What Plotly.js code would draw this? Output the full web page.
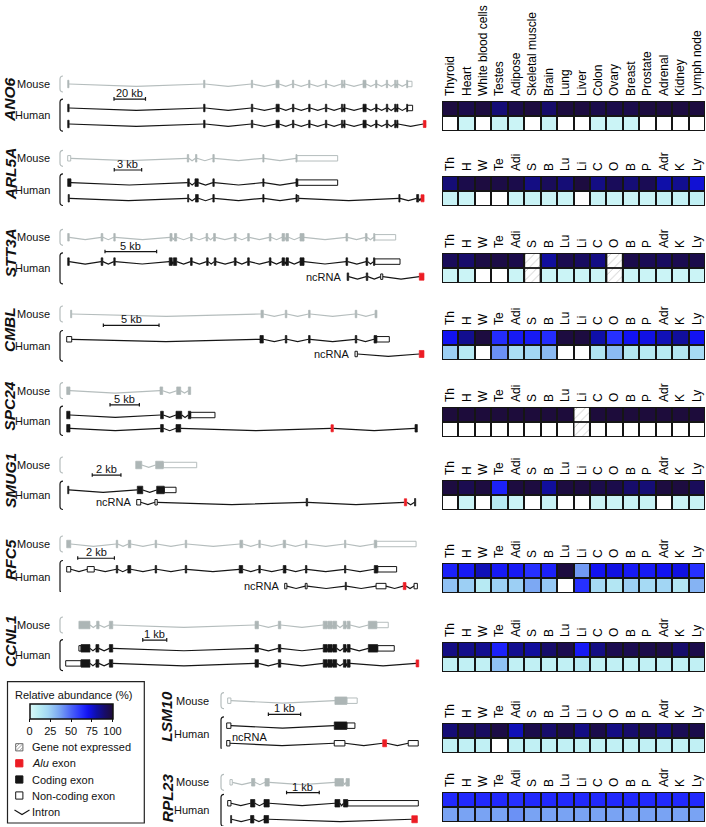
<!DOCTYPE html>
<html><head><meta charset="utf-8">
<script src="https://cdn.plot.ly/plotly-3.0.1.min.js"></script>
<style>html,body{margin:0;padding:0;background:#fff}#chart{width:706px;height:827px}</style>
</head><body><div id="chart"></div>
<script>
const W = 706, H = 827;
const FONT = 'Liberation Sans, Arial, sans-serif';

// ---------- DATA ----------
const tissues = ["Thyroid","Heart","White blood cells","Testes","Adipose","Skeletal muscle","Brain","Lung","Liver","Colon","Ovary","Breast","Prostate","Adrenal","Kidney","Lymph node"];
const tissueAbbr = ["Th","H","W","Te","Adi","S","B","Lu","Li","C","O","B","P","Adr","K","Ly"];
const geneNames = ["ANO6","ARL5A","STT3A","CMBL","SPC24","SMUG1","RFC5","CCNL1","LSM10","RPL23"];
const scaleKb = [20,3,5,5,5,2,2,1,1,1];
const colorTicks = [0,25,50,75,100];

// relative abundance (%) : canonical isoform (top row) and Alu-exon isoform (bottom row); null = gene not expressed
const ANO6_top  = [98,96,98,88,96,98,90,98,98,96,96,96,98,98,98,98];
const ANO6_alu  = [0,5,0,6,5,0,6,0,0,5,5,5,0,0,0,0];
const ARL5A_top = [88,96,98,97,96,86,93,88,98,86,93,88,94,80,84,74];
const ARL5A_alu = [6,5,0,0,5,6,5,5,0,6,5,5,5,7,7,8];
const STT3A_top = [93,90,97,97,96,null,82,95,92,86,null,96,94,92,95,96];
const STT3A_alu = [5,5,0,0,5,null,5,5,5,5,null,5,5,5,5,5];
const CMBL_top  = [70,84,98,63,68,68,63,98,98,80,62,70,72,78,82,70];
const CMBL_alu  = [24,12,0,40,18,22,30,0,0,15,30,14,12,12,14,20];
const SPC24_top = [99,99,99,99,99,99,99,99,null,99,99,99,99,99,99,99];
const SPC24_alu = [0,0,0,0,0,0,0,0,null,0,0,0,0,0,0,0];
const SMUG1_top = [98,95,98,66,98,98,82,98,98,96,96,90,88,98,98,93];
const SMUG1_alu = [0,5,0,12,5,0,6,0,0,5,5,6,6,0,5,6];
const RFC5_top  = [66,68,78,68,68,62,66,98,38,70,72,68,68,70,72,62];
const RFC5_alu  = [28,24,12,24,24,35,26,0,62,20,14,24,20,22,14,32];
const CCNL1_top = [86,85,84,66,84,82,90,95,68,86,95,95,96,97,90,96];
const CCNL1_alu = [8,8,8,28,8,8,8,8,12,8,8,8,8,8,8,8];
const LSM10_top = [88,94,92,97,78,96,90,96,86,96,86,90,94,88,94,96];
const LSM10_alu = [8,8,8,0,8,8,8,8,8,8,8,8,8,8,8,8];
const RPL23_top = [64,64,64,64,62,64,64,64,64,64,64,64,64,64,64,64];
const RPL23_alu = [36,36,36,36,40,36,36,36,36,36,36,36,36,36,36,36];

// exon structures in kb: [start, end, type]  c = coding, n = non-coding, a = Alu exon
const ANO6_mouse  = [[0,0.8,'c'],[86.3,87.1,'c'],[116.6,117.4,'c'],[132.3,134.2,'c'],[142.7,143.5,'c'],[153,153.8,'c'],[163.6,164.4,'c'],[173.8,174.5,'c'],[175.3,176,'c'],[187.5,189.4,'c'],[195.5,196.3,'c'],[202.3,203.1,'c'],[207.6,208.3,'c'],[208.9,209.6,'c'],[215.2,215.8,'c'],[215.8,218.6,'n']];
const ANO6_human1 = [[0,0.9,'c'],[86.3,87.2,'c'],[116.6,117.5,'c'],[132.3,134.3,'c'],[142.7,143.6,'c'],[153,153.9,'c'],[163.6,164.5,'c'],[173.8,174.6,'c'],[175.3,176.1,'c'],[187.5,189.5,'c'],[195.5,196.4,'c'],[202.3,203.2,'c'],[207.6,208.4,'c'],[208.9,209.7,'c'],[215.2,215.8,'c'],[215.8,219.0,'n']];
const ANO6_human2 = [[0,0.9,'c'],[86.3,87.2,'c'],[116.6,117.5,'c'],[132.3,134.3,'c'],[142.7,143.6,'c'],[153,153.9,'c'],[163.6,164.5,'c'],[173.8,174.6,'c'],[175.3,176.1,'c'],[187.5,189.5,'c'],[195.5,196.4,'c'],[202.3,203.2,'c'],[207.6,208.4,'c'],[208.9,209.7,'c'],[225.8,227.5,'a']];

const ARL5A_mouse  = [[0,0.33,'n'],[13.1,13.25,'c'],[14.0,14.15,'c'],[15.9,16.05,'c'],[21.37,21.5,'c'],[25.0,25.1,'c'],[25.1,29.57,'n']];
const ARL5A_human1 = [[0,0.36,'c'],[13.14,13.32,'c'],[13.94,14.3,'c'],[15.9,16.05,'c'],[21.37,21.5,'c'],[25.0,25.19,'c'],[25.19,29.57,'n']];
const ARL5A_human2 = [[0.05,0.18,'c'],[13.14,13.25,'c'],[14.0,14.3,'c'],[15.9,16.05,'c'],[21.37,21.5,'c'],[25.0,25.12,'c'],[25.12,25.3,'n'],[36.27,36.4,'c'],[38.22,38.44,'c'],[38.7,39.03,'a']];

const STT3A_mouse  = [[0,0.15,'c'],[3.24,3.4,'c'],[4.46,4.6,'c'],[9.9,10.1,'c'],[10.34,10.55,'c'],[11.89,12.05,'c'],[13.4,13.55,'c'],[14.12,14.3,'c'],[16.13,16.3,'c'],[17.42,17.58,'c'],[19.52,19.68,'c'],[20.75,20.99,'c'],[21.13,21.37,'c'],[22.49,22.88,'c'],[26.94,27.1,'c'],[28.82,28.98,'c'],[29.62,29.72,'c'],[29.72,31.75,'n']];
const STT3A_human1 = [[0,0.15,'c'],[3.24,3.4,'c'],[4.46,4.6,'c'],[9.83,10.12,'c'],[10.23,10.55,'c'],[11.89,12.05,'c'],[13.45,13.6,'c'],[14.19,14.35,'c'],[16.13,16.3,'c'],[17.42,17.58,'c'],[19.52,19.68,'c'],[20.75,20.99,'c'],[21.13,21.37,'c'],[22.49,22.88,'c'],[26.94,27.1,'c'],[28.88,29.04,'c'],[29.6,29.72,'c'],[29.72,32.17,'n']];
const STT3A_ncRNA  = [[27.05,27.2,'c'],[28.9,29.05,'c'],[30.3,30.5,'n'],[34.04,34.49,'a']];

const CMBL_mouse  = [[0.35,0.45,'c'],[17.44,17.65,'c'],[19.62,19.76,'c'],[21.71,21.85,'c'],[25.9,26.04,'c'],[27.68,27.85,'c']];
const CMBL_human1 = [[0,0.45,'n'],[17.35,17.65,'c'],[19.62,19.76,'c'],[21.71,21.85,'c'],[25.9,26.04,'c'],[27.59,27.83,'c'],[27.83,28.96,'n']];
const CMBL_ncRNA  = [[25.88,26.09,'n'],[31.65,32.07,'a']];

const SPC24_mouse  = [[0,0.56,'c'],[15.9,16.35,'c'],[18.74,19.42,'c'],[20.72,21.12,'c']];
const SPC24_human1 = [[0,0.56,'c'],[16.0,16.46,'c'],[18.62,19.59,'c'],[20.72,21.12,'c'],[21.12,25.26,'n']];
const SPC24_human2 = [[0,0.56,'c'],[16.0,16.46,'c'],[18.62,19.42,'c'],[45.03,45.42,'a'],[59.34,59.73,'c']];

const SMUG1_mouse  = [[4.74,5.16,'c'],[6.13,6.66,'c'],[6.66,8.99,'n']];
const SMUG1_human1 = [[0,0.08,'c'],[4.85,5.23,'c'],[6.2,6.73,'c'],[6.73,7.55,'n']];
const SMUG1_ncRNA  = [[4.81,5.09,'n'],[6.08,6.24,'n'],[16.62,16.72,'c'],[23.46,23.62,'a'],[24.17,24.25,'c']];

const RFC5_mouse  = [[0,0.22,'c'],[2.7,2.78,'c'],[3.36,3.49,'c'],[4.82,4.9,'c'],[6.46,6.54,'c'],[9.44,9.59,'c'],[10.47,10.55,'c'],[11.8,11.93,'c'],[13.01,13.09,'c'],[15.14,15.21,'c'],[16.76,16.89,'c'],[16.89,19.04,'n']];
const RFC5_human1 = [[0,0.22,'n'],[1.12,1.5,'n'],[2.7,2.78,'c'],[3.33,3.49,'c'],[4.82,4.9,'c'],[6.46,6.54,'c'],[9.4,9.59,'c'],[10.47,10.55,'c'],[11.8,11.95,'c'],[13.01,13.09,'c'],[15.14,15.21,'c'],[16.76,16.95,'c'],[16.95,17.98,'n']];
const RFC5_ncRNA  = [[11.88,12.0,'n'],[13.0,13.1,'n'],[15.18,15.24,'c'],[16.86,17.4,'n'],[18.34,18.49,'a'],[18.93,19.11,'n']];

const CCNL1_mouse  = [[0.55,1.01,'c'],[1.29,1.39,'c'],[1.82,1.96,'c'],[7.89,8.03,'c'],[8.86,8.96,'c'],[10.73,10.9,'c'],[10.93,11.1,'c'],[11.13,11.29,'c'],[11.57,11.68,'c'],[11.73,11.85,'c'],[12.61,12.96,'c'],[12.96,13.44,'n']];
const CCNL1_human1 = [[0.55,0.64,'n'],[0.64,1.01,'c'],[1.26,1.38,'c'],[1.82,1.96,'c'],[7.89,8.03,'c'],[8.86,8.96,'c'],[10.73,10.9,'c'],[10.93,11.1,'c'],[11.13,11.29,'c'],[11.57,11.68,'c'],[11.73,11.85,'c'],[12.61,13.0,'c'],[13.0,13.69,'n']];
const CCNL1_human2 = [[0,0.64,'n'],[0.64,1.01,'c'],[1.26,1.38,'c'],[1.82,1.96,'c'],[7.89,8.03,'c'],[8.86,8.96,'c'],[10.73,10.9,'c'],[10.93,11.1,'c'],[11.13,11.29,'c'],[11.57,11.68,'c'],[11.73,11.85,'c'],[14.6,14.71,'a']];

const LSM10_mouse  = [[0.03,0.13,'n'],[3.35,3.72,'c'],[3.72,4.04,'n']];
const LSM10_human1 = [[0,0.13,'n'],[3.33,3.72,'c'],[3.72,3.97,'n']];
const LSM10_ncRNA  = [[0,0.1,'n'],[3.33,3.66,'n'],[4.83,4.95,'a'],[5.62,5.93,'n']];

const RPL23_mouse  = [[0.07,0.14,'n'],[0.73,0.83,'c'],[1.14,1.27,'c'],[3.28,3.54,'c'],[3.62,3.72,'c']];
const RPL23_human1 = [[0,0.1,'n'],[0.7,0.83,'c'],[1.11,1.27,'c'],[3.28,3.43,'c'],[3.54,3.67,'c'],[3.67,5.83,'n']];
const RPL23_human2 = [[0.09,0.12,'c'],[0.7,0.8,'c'],[1.11,1.25,'c'],[5.63,5.8,'a']];

const geneTracks = {
  ANO6:[ANO6_mouse,ANO6_human1,ANO6_human2], ARL5A:[ARL5A_mouse,ARL5A_human1,ARL5A_human2],
  STT3A:[STT3A_mouse,STT3A_human1,STT3A_ncRNA], CMBL:[CMBL_mouse,CMBL_human1,CMBL_ncRNA],
  SPC24:[SPC24_mouse,SPC24_human1,SPC24_human2], SMUG1:[SMUG1_mouse,SMUG1_human1,SMUG1_ncRNA],
  RFC5:[RFC5_mouse,RFC5_human1,RFC5_ncRNA], CCNL1:[CCNL1_mouse,CCNL1_human1,CCNL1_human2],
  LSM10:[LSM10_mouse,LSM10_human1,LSM10_ncRNA], RPL23:[RPL23_mouse,RPL23_human1,RPL23_human2]
};
const geneHeat = {
  ANO6:[ANO6_top,ANO6_alu], ARL5A:[ARL5A_top,ARL5A_alu], STT3A:[STT3A_top,STT3A_alu], CMBL:[CMBL_top,CMBL_alu],
  SPC24:[SPC24_top,SPC24_alu], SMUG1:[SMUG1_top,SMUG1_alu], RFC5:[RFC5_top,RFC5_alu], CCNL1:[CCNL1_top,CCNL1_alu],
  LSM10:[LSM10_top,LSM10_alu], RPL23:[RPL23_top,RPL23_alu]
};

// ---------- LAYOUT (positions in page pixels) ----------
const view = {
  ANO6: {mY:84,    x0:67.7,  s:1.575, rows:[0,1.5,2.5],   heat:[101,131], bar:[29.4,0.94], right:false},
  ARL5A:{mY:158.3, x0:67.7,  s:9.13,  rows:[0,1.52,2.5],  heat:[176,206], bar:[5.1,0.73],  right:false},
  STT3A:{mY:237.3, x0:67.7,  s:10.33, rows:[0,1.52,2.46], heat:[253,283], bar:[3.61,0.9],  right:false, nc:'left'},
  CMBL: {mY:314,   x0:66.7,  s:11.14, rows:[0,1.58,2.5],  heat:[330,360], bar:[3.29,0.71], right:false, nc:'left'},
  SPC24:{mY:390.7, x0:66.7,  s:5.87,  rows:[0,1.52,2.35], heat:[407,437], bar:[7.38,0.89], right:false},
  SMUG1:{mY:465,   x0:67.7,  s:14.35, rows:[0,1.56,2.33], heat:[480,510], bar:[1.71,0.63], right:false, nc:'left'},
  RFC5: {mY:544,   x0:66.7,  s:18.35, rows:[0,1.58,2.63], heat:[563,593], bar:[0.6,0.89],  right:false, nc:'left'},
  CCNL1:{mY:625,   x0:65.7,  s:24,    rows:[0,1.46,2.4],  heat:[642,672], bar:[3.21,0.94], right:false},
  LSM10:{mY:700.7, x0:226.7, s:32.3,  rows:[0,1.56,2.66], heat:[723,753], bar:[1.29,0.85], right:true, nc:'above'},
  RPL23:{mY:782.3, x0:227.7, s:32.7,  rows:[0,1.31,2.31], heat:[792,822], bar:[1.8,0.65],  right:true}
};
const UNIT = 16;           // px per track unit
const DIP = 0.15;          // intron V depth
const GRAY_LINE = '#b5bdbd', GRAY_FILL = '#adb6b6', BLK = '#151515', RED = '#ec1c24';

const X = px => px / W;
const Y = py => 1 - py / H;
const aid = n => n === 1 ? '' : String(n);

const colorscale = [
  [0,'#ffffff'],[0.01,'#d8f8f8'],[0.1,'#bbeef3'],[0.22,'#a2d6f4'],[0.35,'#7ca8f3'],
  [0.5,'#4a62f8'],[0.62,'#2630ff'],[0.7,'#1212f2'],[0.8,'#0f0fa8'],[0.9,'#170c6a'],[1,'#1e0c36']
];

const data = [], shapes = [], annotations = [];
const layout = {
  width: W, height: H, margin:{l:0,r:0,t:0,b:0}, showlegend:false,
  paper_bgcolor:'#fff', plot_bgcolor:'rgba(0,0,0,0)', barmode:'overlay',
  font:{family:FONT, color:'#111'},
  coloraxis:{
    colorscale: colorscale, cmin:0, cmax:100,
    colorbar:{orientation:'h', x:X(71), xanchor:'center', y:Y(703.5), yanchor:'top',
      len:83, lenmode:'pixels', thickness:15, thicknessmode:'pixels', xpad:0, ypad:0,
      tickvals: colorTicks, ticks:'outside', ticklen:3, tickwidth:1, tickcolor:'#111',
      tickfont:{size:11, family:FONT, color:'#111'}, outlinewidth:1.5, outlinecolor:'#111',
      title:{text:''}}
  },
  shapes: shapes, annotations: annotations
};

geneNames.forEach((name, i) => {
  const v = view[name];
  const tracks = geneTracks[name];
  const gn = 2*i + 1, hn = 2*i + 2;
  const gx = 'x'+aid(gn), gy = 'y'+aid(gn), hx = 'x'+aid(hn), hy = 'y'+aid(hn);
  const ymax = Math.min(3.0, (826 - v.mY)/UNIT);
  const ymin = -1.2;
  layout['xaxis'+aid(gn)] = {domain:[0, X(440)], range:[(0 - v.x0)/v.s, (440 - v.x0)/v.s], visible:false, fixedrange:true, anchor:gy};
  layout['yaxis'+aid(gn)] = {domain:[Y(v.mY + ymax*UNIT), Y(v.mY + ymin*UNIT)], range:[ymax, ymin], visible:false, fixedrange:true, anchor:gx};

  // transcripts
  tracks.forEach((tr, k) => {
    const y = v.rows[k];
    const mouse = k === 0;
    const col = mouse ? GRAY_LINE : BLK;
    const fillc = mouse ? GRAY_FILL : BLK;
    const ex = tr.slice().sort((a,b) => a[0]-b[0]);
    const xs = [], ys = [];
    for (let j = 0; j < ex.length - 1; j++) {
      const a = ex[j][1], b = ex[j+1][0];
      if (b - a <= 0) continue;
      xs.push(a, (a+b)/2, b, null); ys.push(y, y + DIP, y, null);
    }
    data.push({type:'scatter', mode:'lines', x:xs, y:ys, xaxis:gx, yaxis:gy,
      line:{color:col, width:1.2}, hoverinfo:'skip', cliponaxis:false});
    const order = tr.slice().sort((a,b) => (a[2]==='n'?0:1) - (b[2]==='n'?0:1));
    order.forEach(([s,e,t]) => {
      const h = t==='c' ? 0.47 : (t==='a' ? 0.44 : 0.34);
      const fill = t==='n' ? '#ffffff' : (t==='a' ? RED : fillc);
      const lc = t==='a' ? RED : (t==='n' ? (mouse ? GRAY_LINE : BLK) : fillc);
      shapes.push({type:'rect', xref:gx, yref:gy, x0:s, x1:e, y0:y-h/2, y1:y+h/2,
        fillcolor:fill, line:{color:lc, width: t==='n' ? 1 : 0.7}, layer:'above'});
    });
  });

  // labels
  const labX = v.right ? 167 : 10;
  const txtR = v.right ? 211 : 52;
  const brX = v.right ? 221 : 60;
  annotations.push({xref:'paper', yref:gy, x:X(labX), y:1.0, text:'<b><i>'+name+'</i></b>', textangle:-90,
    showarrow:false, font:{size:15.5, family:FONT, color:'#111'}, xanchor:'center', yanchor:'middle'});
  annotations.push({xref:'paper', yref:gy, x:X(txtR), y:v.rows[0], text:'Mouse', showarrow:false,
    xanchor:'right', yanchor:'middle', font:{size:11, family:FONT, color:'#111'}});
  annotations.push({xref:'paper', yref:gy, x:X(txtR), y:(v.rows[1]+v.rows[2])/2 - 0.05, text:'Human', showarrow:false,
    xanchor:'right', yanchor:'middle', font:{size:11, family:FONT, color:'#111'}});
  // brackets
  const bracket = (top, bot, color) => {
    const a = X(brX), b = X(brX + 3);
    shapes.push({type:'path', xref:'paper', yref:gy,
      path:`M ${b},${top} Q ${a},${top} ${a},${top+0.2} L ${a},${bot-0.2} Q ${a},${bot} ${b},${bot}`,
      line:{color:color, width:1.2}});
  };
  bracket(-0.5, 0.5, GRAY_LINE);
  bracket(v.rows[1]-0.55, v.rows[2]+0.45, BLK);

  // scale bar
  const [bx, by] = v.bar, L = scaleKb[i];
  shapes.push({type:'line', xref:gx, yref:gy, x0:bx, x1:bx+L, y0:by, y1:by, line:{color:BLK, width:1.2}});
  shapes.push({type:'line', xref:gx, yref:gy, x0:bx, x1:bx, y0:by-0.12, y1:by+0.1, line:{color:BLK, width:1.2}});
  shapes.push({type:'line', xref:gx, yref:gy, x0:bx+L, x1:bx+L, y0:by-0.12, y1:by+0.1, line:{color:BLK, width:1.2}});
  annotations.push({xref:gx, yref:gy, x:bx+L/2, y:by, text:L+' kb', showarrow:false, xanchor:'center', yanchor:'bottom',
    font:{size:11, family:FONT, color:'#111'}, borderpad:0, yshift:-1});

  // ncRNA label
  if (v.nc) {
    const st = Math.min(...tracks[2].map(e => e[0]));
    if (v.nc === 'left') {
      annotations.push({xref:gx, yref:gy, x:st, y:v.rows[2], text:'ncRNA', showarrow:false, xanchor:'right', yanchor:'middle',
        xshift:-3, font:{size:11, family:FONT, color:'#111'}});
    } else {
      annotations.push({xref:gx, yref:gy, x:st, y:v.rows[2]-0.42, text:'ncRNA', showarrow:false, xanchor:'left', yanchor:'middle',
        xshift:3, font:{size:11, family:FONT, color:'#111'}});
    }
  }

  // heatmap
  const [ht, hb] = v.heat;
  const idx = tissues.map((_, j) => j);
  layout['xaxis'+aid(hn)] = {domain:[X(442), X(705)], range:[-0.5, 15.5], side:'top', tickmode:'array', tickvals:idx,
    ticktext: i === 0 ? tissues : tissueAbbr, tickangle:-90, ticks:'', showgrid:false, zeroline:false, showline:false,
    ticklabelstandoff:4,
    tickfont:{size: i === 0 ? 12 : 12, family:FONT, color:'#000'}, anchor:hy, fixedrange:true};
  layout['yaxis'+aid(hn)] = {domain:[Y(hb), Y(ht)], range:[1.5, -0.5], visible:false, fixedrange:true, anchor:hx};
  shapes.push({type:'rect', xref:hx, yref:hy, x0:-0.5, x1:15.5, y0:-0.5, y1:1.5, fillcolor:'#151515',
    line:{color:'#151515', width:2}, layer:'below'});
  const z = geneHeat[name];
  data.push({type:'heatmap', z:z, x:idx, y:[0,1], xaxis:hx, yaxis:hy, coloraxis:'coloraxis',
    xgap:2, ygap:2, hoverinfo:'skip'});
  // not-expressed cells (hatched)
  const hx_ = [], hb_ = [];
  z.forEach((row, r) => row.forEach((val, c) => { if (val === null) { hx_.push(c); hb_.push(r - 0.44); } }));
  if (hx_.length) {
    data.push({type:'bar', x:hx_, y:hx_.map(() => 0.88), base:hb_, width:0.88, xaxis:hx, yaxis:hy,
      marker:{color:'#ffffff', line:{width:0}, pattern:{shape:'/', fgcolor:'#8c8c8c', size:6, solidity:0.14, fillmode:'overlay'}},
      hoverinfo:'skip'});
  }
});

// ---------- legend box ----------
shapes.push({type:'rect', xref:'paper', yref:'paper', x0:X(7.5), x1:X(144.3), y0:Y(823), y1:Y(681.7),
  line:{color:'#222', width:1.2}, fillcolor:'rgba(0,0,0,0)'});
annotations.push({xref:'paper', yref:'paper', x:X(12.5), y:Y(695), text:'Relative abundance (%)', showarrow:false,
  xanchor:'left', yanchor:'middle', font:{size:11, family:FONT, color:'#111'}});
const legItems = [
  {y:747.3, text:'Gene not expressed', kind:'hatch'},
  {y:763.3, text:'<i>Alu</i> exon', kind:'alu'},
  {y:779.5, text:'Coding exon', kind:'coding'},
  {y:795.5, text:'Non-coding exon', kind:'noncoding'},
  {y:811.5, text:'Intron', kind:'intron'}
];
legItems.forEach(it => {
  annotations.push({xref:'paper', yref:'paper', x:X(29.5), y:Y(it.y), text:it.text, showarrow:false,
    xanchor:'left', yanchor:'middle', font:{size:11, family:FONT, color:'#111'}});
  const x0 = 15.7, x1 = 22.9, y0 = it.y - 3.6, y1 = it.y + 3.6;
  if (it.kind === 'intron') {
    shapes.push({type:'path', xref:'paper', yref:'paper',
      path:`M ${X(14.5)},${Y(it.y-1.5)} L ${X(22)},${Y(it.y+3)} L ${X(29.5)},${Y(it.y-1.5)}`, line:{color:BLK, width:1.1}});
  } else if (it.kind === 'hatch') {
    shapes.push({type:'rect', xref:'paper', yref:'paper', x0:X(x0), x1:X(x1), y0:Y(y1), y1:Y(y0),
      fillcolor:'#fff', line:{color:'#555', width:0.9}});
    shapes.push({type:'path', xref:'paper', yref:'paper',
      path:`M ${X(x0)},${Y(y0+3.6)} L ${X(x0+3.6)},${Y(y0)} M ${X(x0)},${Y(y1)} L ${X(x1)},${Y(y0)} M ${X(x0+3.6)},${Y(y1)} L ${X(x1)},${Y(y0+3.6)}`,
      line:{color:'#8c8c8c', width:0.8}});
  } else {
    const fill = it.kind === 'alu' ? RED : (it.kind === 'coding' ? BLK : '#fff');
    const lc = it.kind === 'alu' ? RED : BLK;
    shapes.push({type:'rect', xref:'paper', yref:'paper', x0:X(x0), x1:X(x1), y0:Y(y1), y1:Y(y0),
      fillcolor:fill, line:{color:lc, width:1}});
  }
});

Plotly.newPlot('chart', data, layout, {staticPlot:true, displayModeBar:false});
</script>
</body></html>
